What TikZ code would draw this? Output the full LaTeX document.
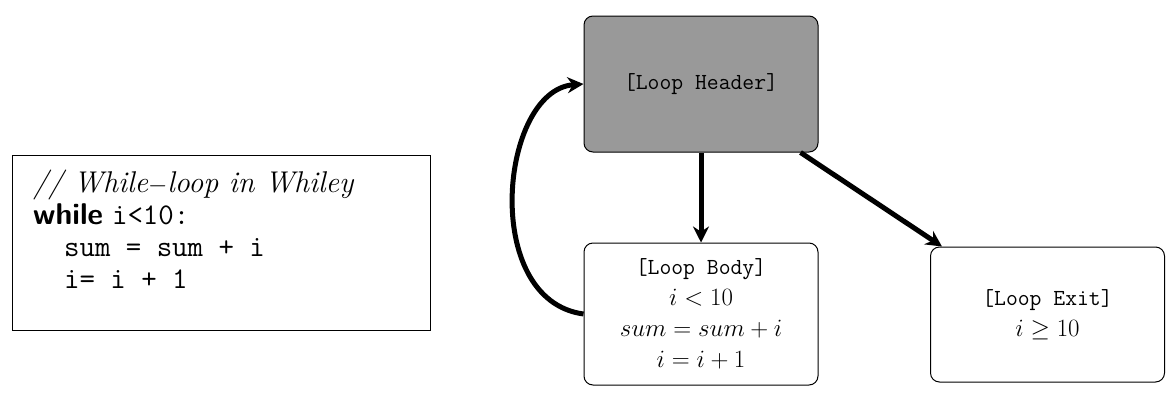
\documentclass[tikz,border=0pt]{standalone}
\usepackage{amssymb}
\usetikzlibrary{arrows.meta,calc}
\begin{document}
\begin{tikzpicture}[x=1pt,y=-1pt,
  blk/.style={draw,rounded corners=9pt,line width=1pt,align=center,minimum width=234pt},
  flow/.style={line width=5pt,-{Stealth[length=16pt,width=16pt]}},
  lbl/.style={font=\fontsize{23}{30}\selectfont\ttfamily}]
\useasboundingbox (0,0) rectangle (1176,402);
\node[draw,line width=1pt,minimum width=418pt,minimum height=175pt] (code) at (221,242.5) {};
\node[anchor=north west,align=left,inner sep=0pt,font=\fontsize{30}{32}\selectfont] (txt) at (33,170)
 {\textit{// While$-$loop in Whiley}\\
  \textsf{\textbf{while}} \texttt{i<10:}\\
  \texttt{\ \ sum = sum + i}\\
  \texttt{\ \ i= i + 1}};
\node[blk,fill=black!40,minimum height=136pt,lbl] (hdr) at (701,84) {[Loop Header]};
\node[blk,minimum height=142pt,font=\fontsize{25}{31}\selectfont] (body) at (701,314)
 {{\fontsize{23}{30}\selectfont\texttt{[Loop Body]}}\\ $i<10$\\ $sum=sum+i$\\ $i=i+1$};
\node[blk,minimum height=135pt,font=\fontsize{25}{31}\selectfont] (exit) at (1047.5,314.5)
 {{\fontsize{23}{30}\selectfont\texttt{[Loop Exit]}}\\ $i\geq 10$};
\draw[flow] (hdr.south) -- (body.north);
\draw[flow] ($(hdr.south east)+(-18,0)$) -- ($(exit.north west)+(12,0)$);
\draw[flow] (body.west) .. controls (480,300) and (500,90) .. (hdr.west);
\end{tikzpicture}
\end{document}
